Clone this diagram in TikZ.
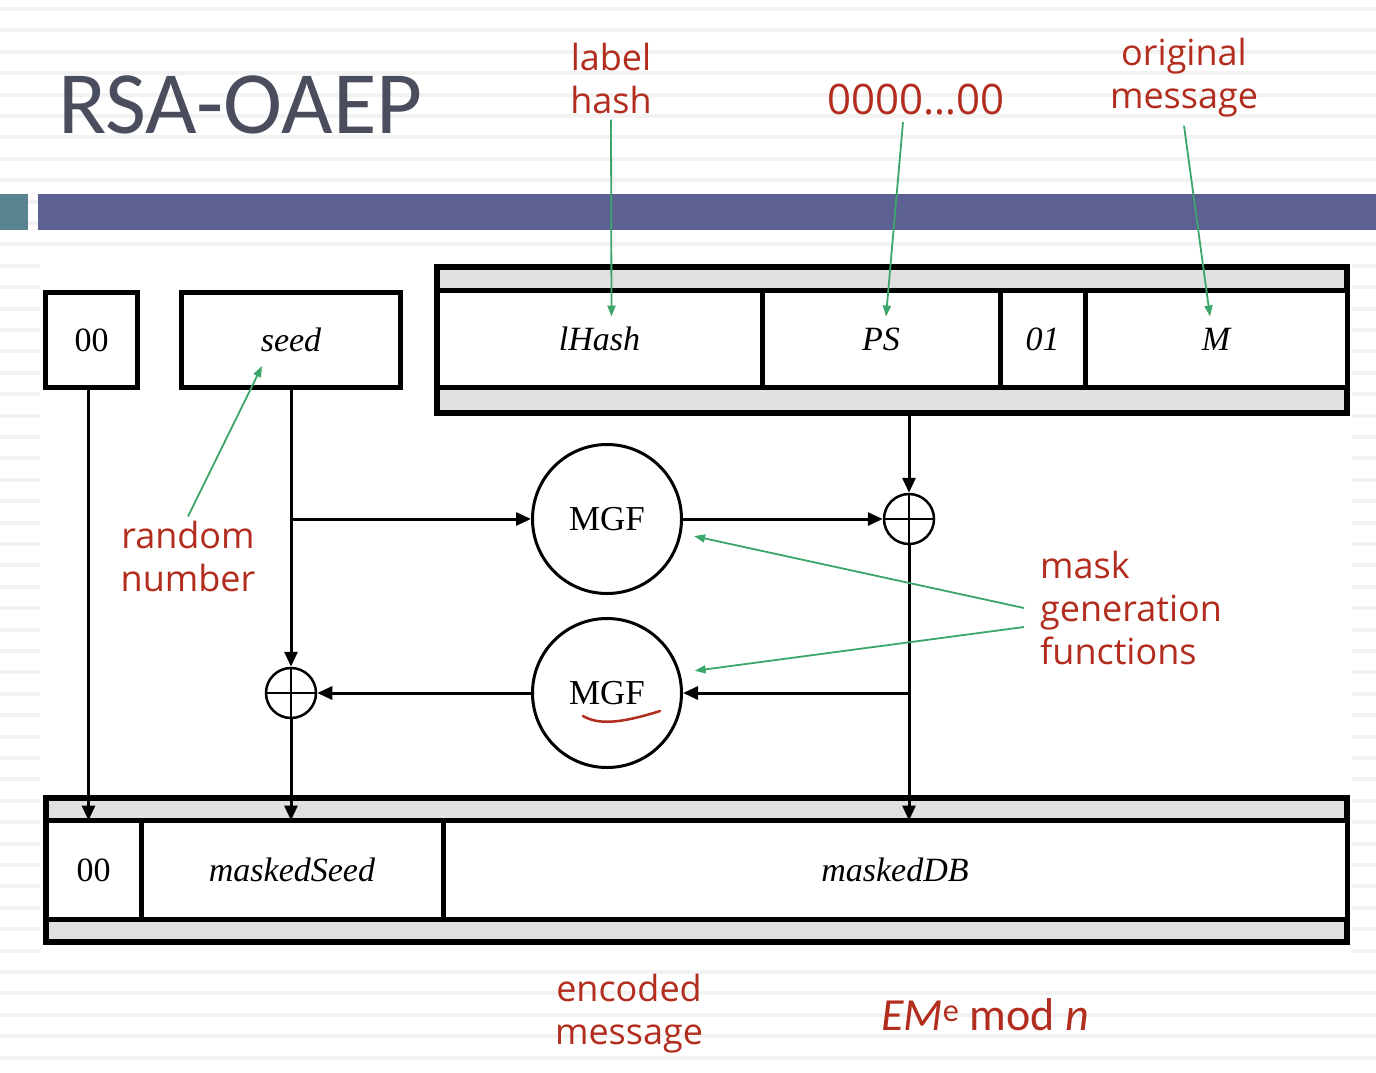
\documentclass[tikz,border=0pt]{standalone}
\usepackage{fontspec}
\setmainfont{Liberation Serif}
\newfontfamily\slidefont{Carlito}
\newfontfamily\notefont{Open Sans}
\usepackage{xcolor}
\usepackage{tikz}
\usetikzlibrary{arrows.meta, positioning, calc}
\definecolor{titlegrey}{RGB}{74,77,94}
\definecolor{barblue}{RGB}{92,96,146}
\definecolor{barteal}{RGB}{90,133,144}
\definecolor{notered}{RGB}{178,45,30}
\definecolor{notegreen}{RGB}{60,165,105}
\definecolor{stripgrey}{RGB}{242,242,242}
\definecolor{fieldgrey}{RGB}{224,224,224}

\begin{document}
\begin{tikzpicture}[x=1pt, y=-1pt,
    frame/.style={rectangle, draw, line width=6pt, fill=fieldgrey, inner sep=0pt, outer sep=0pt},
    cell/.style={rectangle, draw, line width=5pt, fill=white, inner sep=0pt, outer sep=0pt, font=\fontsize{34}{40}\selectfont},
    mgf/.style={circle, draw, line width=3pt, fill=white, minimum size=149pt, font=\fontsize{35}{40}\selectfont},
    xorop/.style={circle, draw, line width=2.5pt, minimum size=50pt, path picture={\draw[line width=2.5pt] (path picture bounding box.north) -- (path picture bounding box.south) (path picture bounding box.west) -- (path picture bounding box.east);}},
    flow/.style={-{Triangle[length=15pt, width=13pt]}, line width=3pt},
    note/.style={text=notered, font=\notefont\fontsize{36}{43}\selectfont, align=center, inner sep=0pt},
    pointer/.style={-{Triangle[length=11pt, width=8pt]}, notegreen, line width=1.8pt}
]

\fill[white] (0,0) rectangle (1376,1072);
\foreach \k in {0,...,49}
  \fill[stripgrey] (0,{7+21.4*\k}) rectangle (1376,{11+21.4*\k});
\fill[white] (40,250) rectangle (1352,962);
\useasboundingbox (0,0) rectangle (1376,1072);

\fill[barteal] (0,194) rectangle (28,230);
\fill[barblue] (38,194) rectangle (1376,230);
\node[anchor=base west, text=titlegrey, font=\slidefont\fontsize{89}{92}\selectfont, inner sep=0pt] (title) at (58,133) {RSA-OAEP};

\node[cell, minimum width=92pt, minimum height=95pt] (zero) at (91.5,340) {00};
\node[cell, minimum width=219pt, minimum height=95pt] (seed) at (291,340) {\itshape seed};

\node[frame, minimum width=910pt, minimum height=146pt] (db) at (892,340) {};
\node[cell, minimum width=325pt, minimum height=97pt] (lhash) at (599.5,339) {\itshape lHash};
\node[cell, minimum width=238pt, minimum height=97pt, right=0pt of lhash] (ps) {\itshape PS};
\node[cell, minimum width=85pt, minimum height=97pt, right=0pt of ps] (one) {\itshape 01};
\node[cell, minimum width=262pt, minimum height=97pt, right=0pt of one] (msg) {\itshape M};

\node[mgf] (mgf1) at (607,519) {MGF};
\node[mgf] (mgf2) at (607,693) {MGF};
\node[xorop] (xor1) at (909,519) {};
\node[xorop] (xor2) at (291,693) {};

\node[frame, minimum width=1301pt, minimum height=144pt] (em) at (696.5,870) {};
\node[cell, minimum width=95pt, minimum height=99pt] (ezero) at (93.5,870) {00};
\node[cell, minimum width=302pt, minimum height=99pt, right=0pt of ezero] (mseed) {\itshape maskedSeed};
\node[cell, minimum width=904pt, minimum height=99pt, right=0pt of mseed] (mdb) {\itshape maskedDB};

\draw[flow] ([xshift=-3pt]zero.south) -- ([xshift=-3pt]zero.south |- ezero.north);
\draw[flow] (seed.south) -- (xor2.north);
\draw[flow] (xor2.south) -- (xor2.south |- mseed.north);
\draw[flow] (seed.south |- mgf1.west) -- (mgf1.west);
\draw[flow] (mgf1.east) -- (xor1.west);
\draw[flow] (xor1.north |- db.south) -- (xor1.north);
\draw[flow] (xor1.south) -- (xor1.south |- mdb.north);
\draw[flow] (xor1.south |- mgf2.east) -- (mgf2.east);
\draw[flow] (mgf2.west) -- (xor2.east);

\node[note] (lhnote) at (611,78) {label\\hash};
\node[note, font=\notefont\fontsize{42}{46}\selectfont] (psnote) at (916,100) {0000…00};
\node[note] (msgnote) at (1184,78) {original\\message};
\node[note] (rndnote) at (188,556) {random\\number};
\node[note, align=left, anchor=west] (mgfnote) at (1040,608) {mask\\generation\\functions};
\node[note] (emnote) at (629,1014) {encoded\\message};
\node[text=notered, font=\slidefont\fontsize{46}{50}\selectfont, inner sep=0pt] (emlabel) at (985,1015) {\textit{EM}\textsuperscript{e} mod \textit{n}};

\draw[pointer] ([yshift=-6pt]lhnote.south) -- ([shift={(12pt,-26pt)}]lhash.north);
\draw[pointer] ([shift={(-13pt,-22pt)}]psnote.center) -- ([shift={(5pt,-26pt)}]ps.north);
\draw[pointer] ([yshift=-8pt]msgnote.south) -- ([shift={(-6pt,-26pt)}]msg.north);
\draw[pointer] ([yshift=4pt]rndnote.north) -- ([shift={(-29pt,-26pt)}]seed.center);
\draw[pointer] ([xshift=-16pt]mgfnote.west) -- ([xshift=13pt]mgf1.-13);
\draw[pointer] ([shift={(-16pt,-19pt)}]mgfnote.west) -- ([xshift=15pt]mgf2.17);

\draw[notered, line width=2.5pt, line cap=round] (583,716) .. controls (600,726) and (625,722) .. (660,711);
\end{tikzpicture}
\end{document}
